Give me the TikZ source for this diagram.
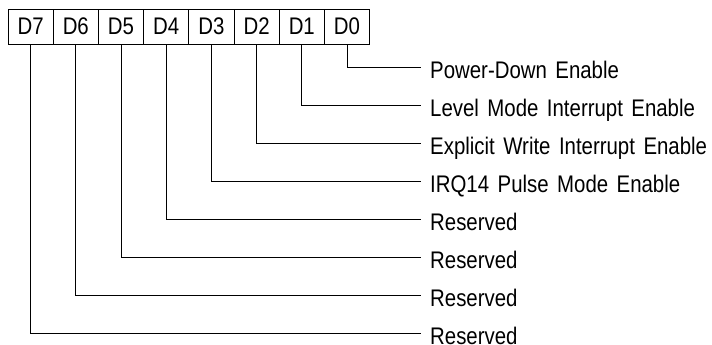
\documentclass[tikz,border=0pt]{standalone}
\usepackage{fontspec}
\setmainfont[FakeStretch=0.85,WordSpace=1.5]{Liberation Sans}
\begin{document}
\begin{tikzpicture}[x=1pt,y=-1pt,
  bitbox/.style={draw,line width=0.9pt,minimum width=45.2pt,minimum height=35pt,inner sep=0pt,font=\fontsize{24}{26}\selectfont},
  desc/.style={anchor=west,inner sep=0pt,text height=22pt,text depth=0pt,font=\fontsize{24}{26}\selectfont},
  conn/.style={line width=0.9pt}]
\useasboundingbox (0,0) rectangle (712,345);
\foreach \n/\k in {7/0,6/1,5/2,4/3,3/4,2/5,1/6,0/7}{
  \node[bitbox] (d\n) at ({8+22.6+45.2*\k},26.5) {D\n};
}
\node[desc] (l0) at (430,67) {Power-Down Enable};
\node[desc] (l1) at (430,105) {Level Mode Interrupt Enable};
\node[desc] (l2) at (430,143) {Explicit Write Interrupt Enable};
\node[desc] (l3) at (430,181) {IRQ14 Pulse Mode Enable};
\node[desc] (l4) at (430,219) {Reserved};
\node[desc] (l5) at (430,257) {Reserved};
\node[desc] (l6) at (430,295) {Reserved};
\node[desc] (l7) at (430,333) {Reserved};
\foreach \n in {0,...,7}{
  \draw[conn] (d\n.south) |- ([xshift=-9pt]l\n.west);
}
\end{tikzpicture}
\end{document}
